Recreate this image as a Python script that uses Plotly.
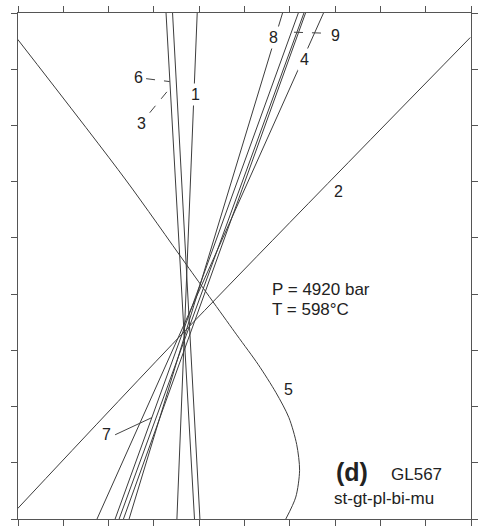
import plotly.graph_objects as go

# ---- data (T in degC, P in bar) ----
line1_T = [598.9, 587.7]
line1_P = [7500, 3000]
line3_T = [585.3, 600.4]
line3_P = [7500, 3000]
line6_T = [581.7, 597.4]
line6_P = [7500, 3000]
line4_T = [668.6, 543.6]
line4_P = [7500, 3000]
line7_T = [654.7, 553.6]
line7_P = [7500, 3000]
line8_T = [646.0, 561.3]
line8_P = [7500, 3000]
line9_T = [657.8, 555.8]
line9_P = [7500, 3000]
line10_T = [658.7, 558.2]
line10_P = [7500, 3000]
line2_T = [499.7, 592.6, 749.6]
line2_P = [3091, 4680, 7282]
line5_T = [499.7, 559.1, 592.9, 620.7, 632.6, 642.4, 649.5, 653.8, 655.4, 653.3, 647.8]
line5_P = [7268, 6024, 5263, 4638, 4373, 4123, 3902, 3663, 3433, 3195, 3000]

labels = ["1", "2", "3", "4", "5", "6", "7", "8", "9"]
label_T = [597.8, 676.8, 568.1, 658.2, 649.5, 566.3, 549.1, 641.1, 675.0]
label_P = [6775, 5911, 6519, 7085, 4149, 6928, 3754, 7285, 7297]

LC = "#3c3c3c"
fig = go.Figure()
for T, P, shape in [
    (line1_T, line1_P, "linear"), (line3_T, line3_P, "linear"), (line6_T, line6_P, "linear"),
    (line4_T, line4_P, "linear"), (line7_T, line7_P, "linear"), (line8_T, line8_P, "linear"),
    (line9_T, line9_P, "linear"), (line10_T, line10_P, "linear"),
    (line2_T, line2_P, "spline"), (line5_T, line5_P, "spline"),
]:
    fig.add_trace(go.Scatter(x=T, y=P, mode="lines",
                             line=dict(color=LC, width=1, shape=shape, smoothing=0.8),
                             showlegend=False, hoverinfo="skip"))

FONT = "Liberation Sans, Arial, sans-serif"
ann = []
for lab, t, p in zip(labels, label_T, label_P):
    ann.append(dict(x=t, y=p, text=lab, showarrow=False, font=dict(family=FONT, size=16, color="#222"),
                    bgcolor="white", borderpad=2))
ann += [
    dict(x=638.8, y=5042, text="P = 4920 bar", xanchor="left", showarrow=False,
         font=dict(family=FONT, size=17, color="#222")),
    dict(x=638.8, y=4859, text="T = 598°C", xanchor="left", showarrow=False,
         font=dict(family=FONT, size=17, color="#222")),
    dict(x=674.5, y=3415, text="<b>(d)</b>", xanchor="left", showarrow=False,
         font=dict(family=FONT, size=25, color="#222")),
    dict(x=704.5, y=3400, text="GL567", xanchor="left", showarrow=False,
         font=dict(family=FONT, size=17, color="#222")),
    dict(x=673.5, y=3180, text="st-gt-pl-bi-mu", xanchor="left", showarrow=False,
         font=dict(family=FONT, size=17, color="#222")),
]

shapes = [
    dict(type="line", xref="x", yref="y", x0=570.7, y0=6916, x1=583.7, y1=6890,
         line=dict(color="#444", width=1, dash="dash")),
    dict(type="line", xref="x", yref="y", x0=572.7, y0=6613, x1=584.4, y1=6843,
         line=dict(color="#444", width=1, dash="dash")),
    dict(type="line", xref="x", yref="y", x0=652.3, y0=7329, x1=670.5, y1=7320,
         line=dict(color="#444", width=1, dash="dash")),
    dict(type="line", xref="x", yref="y", x0=553.6, y0=3749, x1=573.9, y1=3902,
         line=dict(color="#444", width=1)),
]

axis_common = dict(showticklabels=False, ticks="outside", ticklen=6, tickcolor="#555",
                   showgrid=False, zeroline=False, showline=True, linecolor="#555",
                   linewidth=1, mirror="ticks")
fig.update_layout(
    width=480, height=527,
    margin=dict(l=18, r=2, t=13, b=5),
    plot_bgcolor="white", paper_bgcolor="white",
    xaxis=dict(range=[500, 750], dtick=25, tick0=500, **axis_common),
    yaxis=dict(range=[3000, 7500], dtick=500, tick0=3000, **axis_common),
    annotations=ann, shapes=shapes,
)
fig.write_html("out.html")
